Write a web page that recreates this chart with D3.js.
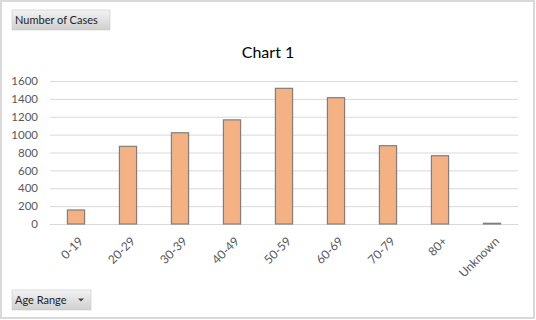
<!DOCTYPE html>
<html>
<head>
<meta charset="utf-8">
<script src="https://cdn.jsdelivr.net/npm/d3@7"></script>
<style>
  html, body { margin: 0; padding: 0; background: #fff; }
  svg { display: block; }
  text { font-family: Lato, "Open Sans", sans-serif; }
</style>
</head>
<body>
<svg id="chart" width="536" height="320"></svg>
<script>
const categories = ["0-19", "20-29", "30-39", "40-49", "50-59", "60-69", "70-79", "80+", "Unknown"];
const cases = [157, 869, 1021, 1165, 1518, 1413, 876, 764, 8];
const yTicks = [0, 200, 400, 600, 800, 1000, 1200, 1400, 1600];
const chartTitle = "Chart 1";
const valueButton = "Number of Cases";
const axisButton = "Age Range";

const svg = d3.select("#chart");
const W = 536, H = 320;
const m = { left: 50, right: 18, top: 81, bottom: 96 };

// outer frame
svg.append("rect").attr("x", 1).attr("y", 1).attr("width", 533).attr("height", 317)
  .attr("fill", "#fff").attr("stroke", "#d9d9d9").attr("stroke-width", 2);

const defs = svg.append("defs");
const grad = defs.append("linearGradient").attr("id", "btn").attr("x1", 0).attr("y1", 0).attr("x2", 0).attr("y2", 1);
grad.append("stop").attr("offset", "0%").attr("stop-color", "#f3f3f3");
grad.append("stop").attr("offset", "100%").attr("stop-color", "#cfcfcf");

const x = d3.scaleBand().domain(categories).range([m.left, W - m.right]).paddingInner(0.67).paddingOuter(0.335);
const y = d3.scaleLinear().domain([0, 1600]).range([H - m.bottom, m.top]);

// gridlines
const yAxis = d3.axisLeft(y).tickValues(yTicks).tickFormat(d3.format("d"))
  .tickSize(-(W - m.left - m.right)).tickPadding(12);
const gy = svg.append("g").attr("transform", `translate(${m.left},0)`).call(yAxis);
gy.select(".domain").remove();
gy.selectAll(".tick line").attr("stroke", "#d9d9d9").attr("stroke-width", 1);
gy.selectAll(".tick text").attr("fill", "#595959").attr("font-size", "11.5px")
  .attr("font-family", "Lato, 'Open Sans', sans-serif");

// bars
svg.append("g").selectAll("rect").data(categories).join("rect")
  .attr("x", d => x(d))
  .attr("y", (d, i) => y(cases[i]))
  .attr("width", x.bandwidth())
  .attr("height", (d, i) => y(0) - y(cases[i]))
  .attr("fill", "#f4b183")
  .attr("stroke", "#7f7f7f")
  .attr("stroke-width", 1.2);

// x axis labels
const xAxis = d3.axisBottom(x).tickSize(0).tickPadding(0);
const gx = svg.append("g").attr("transform", `translate(0,${y(0)})`).call(xAxis);
gx.select(".domain").remove();
gx.selectAll(".tick text")
  .attr("fill", "#595959").attr("font-size", "12px")
  .attr("font-family", "Lato, 'Open Sans', sans-serif")
  .attr("text-anchor", "end")
  .attr("dy", "0.35em")
  .attr("y", 0)
  .attr("transform", "translate(5,15) rotate(-45)");

// title
svg.append("text").attr("x", 268).attr("y", 58).attr("text-anchor", "middle")
  .attr("font-size", "16px").attr("fill", "#000").text(chartTitle);

// field buttons
function button(bx, by, bw, bh, label, arrow) {
  const g = svg.append("g");
  g.append("rect").attr("x", bx).attr("y", by).attr("width", bw).attr("height", bh)
    .attr("fill", "url(#btn)").attr("stroke", "#c8c8c8").attr("stroke-width", 0.6);
  g.append("text").attr("x", bx + 3).attr("y", by + bh / 2).attr("dy", "0.35em")
    .attr("font-size", "11px").attr("fill", "#222").text(label);
  if (arrow) {
    const ax = bx + bw - 10, ay = by + bh / 2;
    g.append("path").attr("d", `M${ax - 3},${ay - 1.5}L${ax + 3},${ay - 1.5}L${ax},${ay + 1.5}Z`).attr("fill", "#444");
  }
}
button(12, 10, 98, 20, valueButton, false);
button(12, 290, 79, 20, axisButton, true);
</script>
</body>
</html>
